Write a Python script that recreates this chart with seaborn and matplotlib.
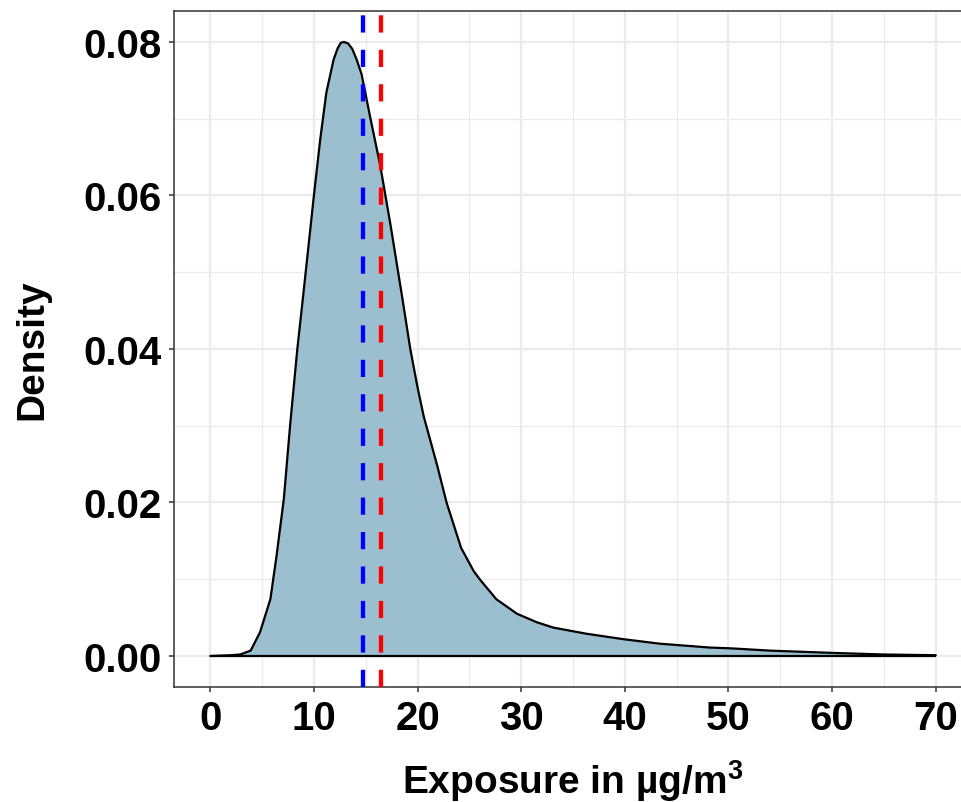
import matplotlib
matplotlib.use("Agg")
import matplotlib.pyplot as plt
import seaborn as sns
import pandas as pd
from matplotlib.ticker import MultipleLocator, FixedLocator

# ---- data ----
exposure = [0.0, 2.0, 2.9, 3.9, 4.8, 5.8, 6.4, 7.1, 7.7, 8.4, 9.0, 10.0, 10.6, 11.2, 11.9,
            12.3, 12.6, 12.9, 13.3, 13.7, 14.1, 14.6, 15.4, 16.4, 17.4, 18.5, 19.3, 20.0,
            20.6, 21.9, 22.8, 24.2, 25.4, 26.0, 27.6, 29.6, 31.5, 33.1, 34.7, 36.3, 39.8,
            43.4, 48.2, 50.2, 54.0, 60.1, 64.9, 70.0]
density = [0.0000, 0.0001, 0.0002, 0.0007, 0.0031, 0.0074, 0.0131, 0.0205, 0.0300,
           0.0400, 0.0474, 0.0600, 0.0672, 0.0734, 0.0777, 0.0792, 0.0799, 0.0800,
           0.0798, 0.0791, 0.0778, 0.0758, 0.0704, 0.0639, 0.0561, 0.0469, 0.0400,
           0.0350, 0.0312, 0.0248, 0.0200, 0.0141, 0.0111, 0.0100, 0.0074, 0.0055,
           0.0044, 0.0037, 0.0033, 0.0029, 0.0022, 0.0016, 0.0011, 0.0010, 0.0007,
           0.0004, 0.0002, 0.0001]
median_value = 14.7   # blue dashed line
mean_value = 16.5     # red dashed line
x_ticks = [0, 10, 20, 30, 40, 50, 60, 70]
y_ticks = [0.00, 0.02, 0.04, 0.06, 0.08]
y_tick_labels = ["0.00", "0.02", "0.04", "0.06", "0.08"]
x_title = r"Exposure in µg/m$^{\mathbf{3}}$"
y_title = "Density"

# ---- style ----
sns.set_theme(style="whitegrid")
plt.rcParams['font.family'] = ['Liberation Sans', 'DejaVu Sans']
plt.rcParams['font.weight'] = 'bold'
plt.rcParams['mathtext.fontset'] = 'custom'
plt.rcParams['mathtext.rm'] = 'Liberation Sans:bold'
plt.rcParams['mathtext.bf'] = 'Liberation Sans:bold'

FS_TICK = 29
FS_TITLE = 28
fig = plt.figure(figsize=(9.62, 8.03), dpi=100)
fig.patch.set_facecolor('white')
ax = fig.add_axes([174 / 962, (803 - 687.7) / 803, 798 / 962, 676.2 / 803])
ax.set_facecolor('white')

df = pd.DataFrame({'exposure': exposure, 'density': density})

ax.fill_between(df['exposure'], df['density'], 0, color='#9BBFCE', lw=0, zorder=2)
sns.lineplot(data=df, x='exposure', y='density', color='black', lw=1.6,
             sort=False, ax=ax, zorder=3)
ax.hlines(0, df['exposure'].min(), df['exposure'].max(), color='black', lw=1.6, zorder=3)

ax.axvline(median_value, color='blue', lw=3.1, ls=(0, (4, 4)), zorder=4)
ax.axvline(mean_value, color='red', lw=3.1, ls=(0, (4, 4)), zorder=4)

ax.set_xlim(-3.5, 73.5)
ax.set_ylim(-0.004, 0.0841)
ax.xaxis.set_major_locator(FixedLocator(x_ticks))
ax.xaxis.set_minor_locator(MultipleLocator(5))
ax.yaxis.set_major_locator(FixedLocator(y_ticks))
ax.yaxis.set_minor_locator(MultipleLocator(0.01))
ax.set_yticklabels(y_tick_labels)
ax.set_xticklabels([str(t) for t in x_ticks])

ax.grid(which='major', color='#EBEBEB', lw=1.6, zorder=0)
ax.grid(which='minor', color='#EBEBEB', lw=0.9, zorder=0)
ax.set_axisbelow(True)

for side in ['left', 'bottom', 'top', 'right']:
    ax.spines[side].set_color('#333333')
    ax.spines[side].set_linewidth(1.1)
    ax.spines[side].set_visible(True)

ax.tick_params(which='major', length=3.6, width=1.1, color='#333333',
               labelsize=FS_TICK, labelcolor='black', pad=5, bottom=True, left=True)
ax.tick_params(which='minor', length=0)
for lab in ax.get_xticklabels() + ax.get_yticklabels():
    lab.set_fontweight('bold')

ax.set_xlabel(x_title, fontsize=FS_TITLE, fontweight='bold', color='black', labelpad=15)
ax.set_ylabel(y_title, fontsize=FS_TITLE, fontweight='bold', color='black', labelpad=24)

fig.savefig('out.png', dpi=100)
